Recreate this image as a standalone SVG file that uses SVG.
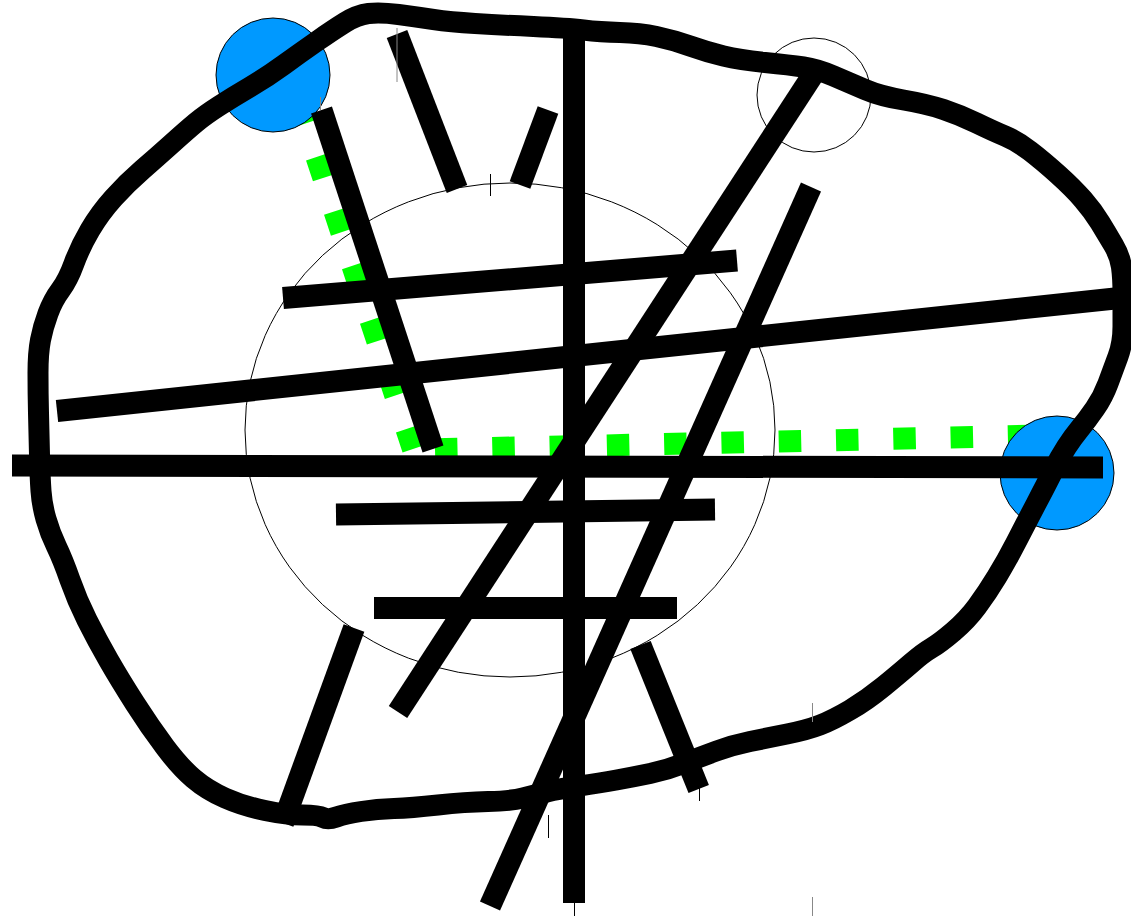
<svg xmlns="http://www.w3.org/2000/svg" width="1131" height="916" viewBox="0 0 1131 916">
<style>
.thin{fill:none;stroke:#000;stroke-width:1}
.blue{fill:#0099ff;stroke:#000;stroke-width:1}
.green{fill:none;stroke:#00ff00;stroke-width:22}
.road{fill:none;stroke:#000;stroke-width:22;stroke-linecap:butt}
.blob{fill:none;stroke:#000;stroke-width:21;stroke-linejoin:round;stroke-linecap:round}
.tick{stroke:#000;stroke-width:1}
.tickg{stroke:#888;stroke-width:1}
</style>
<rect width="1131" height="916" fill="#fff"/>
<g id="big-ellipse"><ellipse class="thin" cx="510" cy="430" rx="265" ry="247"/></g>
<g id="small-circle"><circle class="thin" cx="814" cy="95" r="57"/></g>
<g id="green-route">
<path class="green" d="M298.5 102.6 L413 449" stroke-dasharray="22 35.3"/>
<path class="green" d="M435 449.3 L1040 435.5" stroke-dasharray="22.5 34.8"/>
</g>
<g id="blue-left"><circle class="blue" cx="273" cy="75" r="57"/></g>
<g id="blue-right"><circle class="blue" cx="1057" cy="473" r="57"/></g>
<g id="outline">
<path class="blob" d="M345 22.5 Q357 15 368.5 13.5 Q380 12 398.5 14.5 Q417 17 433.5 19.5 Q450 22 475 23.5 Q500 25 533.5 26.5 Q567 28 583.5 30 Q600 32 620 32.5 Q640 33 656.5 36.5 Q673 40 690 46 Q707 52 723.5 56 Q740 60 765 62.5 Q790 65 803.5 67 Q817 69 833.5 76 Q850 83 865 89.5 Q880 96 903.5 100 Q927 104 943.5 109.5 Q960 115 976.5 123 Q993 131 1005 136 Q1017 141 1030 151 Q1043 161 1058 174.5 Q1073 188 1083 199.5 Q1093 211 1100 222.5 Q1107 234 1113.5 245 Q1120 256 1121.5 267 Q1123 278 1123 294 Q1123 310 1123 326.5 Q1123 343 1118 356.5 Q1113 370 1108 383.5 Q1103 397 1095 408.5 Q1087 420 1080 428.5 Q1073 437 1066.5 447 Q1060 457 1053.5 470 Q1047 483 1036 504 Q1025 525 1016 542.5 Q1007 560 997 576.5 Q987 593 977 606.5 Q967 620 953.5 631.5 Q940 643 931.5 648 Q923 653 911.5 663 Q900 673 883.5 686.5 Q867 700 850 710 Q833 720 820 725 Q807 730 787 734 Q767 738 750 741.5 Q733 745 716.5 751 Q700 757 683.5 763.5 Q667 770 650 773.5 Q633 777 616.5 780 Q600 783 579 786 Q558 789 546.5 792 Q535 795 523 798 Q511 801 488 801.5 Q465 802 438 805 Q411 808 394 808.5 Q377 809 361 811.5 Q345 814 336.5 817 Q328 820 323 817.5 Q318 815 302.5 815 Q287 815 265 810.5 Q243 806 225 798 Q207 790 193.5 778.5 Q180 767 165 747 Q150 727 135 703.5 Q120 680 108.5 660 Q97 640 87 620 Q77 600 70 580 Q63 560 56.5 546.5 Q50 533 46 519 Q42 505 41 491 Q40 477 39.5 455 Q39 433 38.5 413 Q38 393 38 373 Q38 353 40.5 340 Q43 327 48 313.5 Q53 300 60.5 290 Q68 280 74 263.5 Q80 247 90 230 Q100 213 113.5 198 Q127 183 142 170 Q157 157 172 143.5 Q187 130 196 122.5 Q205 115 219 106 Q233 97 250 87 Q267 77 283.5 65 Q300 53 316.5 41.5 Q333 30 345 22.5 Z"/>
</g>
<g id="lines">
<line class="road" x1="574" y1="36" x2="574" y2="903"/>
<line class="road" x1="12" y1="465.5" x2="1103" y2="467.5"/>
<line class="road" x1="57" y1="411" x2="1115" y2="298.5"/>
<line class="road" x1="283" y1="298" x2="737" y2="260.5"/>
<line class="road" x1="336" y1="514.5" x2="715" y2="509.5"/>
<line class="road" x1="374" y1="608" x2="677" y2="608"/>
<line class="road" x1="816" y1="70" x2="398" y2="712"/>
<line class="road" x1="811" y1="187" x2="490" y2="906"/>
<line class="road" x1="321.5" y1="110" x2="433" y2="449"/>
<line class="road" x1="397" y1="34" x2="457" y2="189"/>
<line class="road" x1="548" y1="110" x2="520" y2="185"/>
<line class="road" x1="354" y1="628" x2="283" y2="823"/>
<line class="road" x1="640.5" y1="645" x2="698.7" y2="789"/>
</g>
<g id="ticks">
<line class="tickg" x1="397" y1="28" x2="397" y2="82"/>
<line class="tickg" x1="320.5" y1="97" x2="320.5" y2="110"/>
<line class="tick" x1="490.5" y1="174" x2="490.5" y2="196"/>
<line class="tick" x1="548.5" y1="815" x2="548.5" y2="838"/>
<line class="tick" x1="574.5" y1="903" x2="574.5" y2="916"/>
<line class="tick" x1="699.5" y1="788" x2="699.5" y2="801"/>
<line class="tickg" x1="812.5" y1="703" x2="812.5" y2="722"/>
<line class="tickg" x1="812.5" y1="897" x2="812.5" y2="916"/>
</g>
</svg>
